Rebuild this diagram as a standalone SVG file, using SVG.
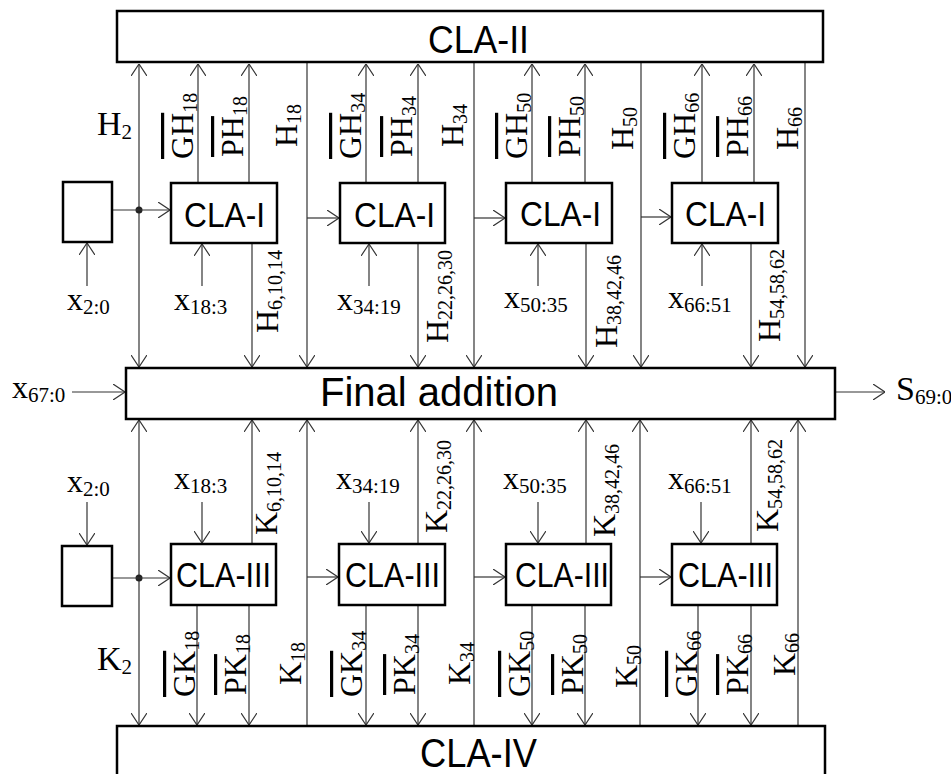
<svg xmlns="http://www.w3.org/2000/svg" width="951" height="774" viewBox="0 0 951 774">
<style>
.ln{stroke:#333;stroke-width:1.2;fill:none}
.bx{fill:#fff;stroke:#000;stroke-width:2.5}
.sans{font-family:"Liberation Sans",Arial,sans-serif;fill:#000}
.ser{font-family:"Liberation Serif","Times New Roman",serif;font-size:32px;fill:#000}
.hz{font-family:"Liberation Serif","Times New Roman",serif;font-size:34px;fill:#000}
.xv{font-family:"Liberation Serif","Times New Roman",serif;font-size:32px;fill:#000}
.sub{font-size:20px}
.sub2{font-size:21px}
.ov{text-decoration:overline}
</style>
<defs>
<marker id="ar" viewBox="0 0 12 16" refX="12" refY="8" markerWidth="12" markerHeight="16" markerUnits="userSpaceOnUse" orient="auto-start-reverse">
<path d="M0,0 L12,8 L0,16" fill="none" stroke="#333" stroke-width="1.2"/>
</marker>
</defs>
<g id="connectors">
<line class="ln" x1="139" y1="64" x2="139" y2="367" marker-start="url(#ar)" marker-end="url(#ar)"/>
<circle cx="139" cy="210" r="3.5" fill="#222"/>
<line class="ln" x1="112" y1="210" x2="170" y2="210" marker-end="url(#ar)"/>
<line class="ln" x1="198" y1="183" x2="198" y2="64" marker-end="url(#ar)"/>
<line class="ln" x1="249" y1="183" x2="249" y2="64" marker-end="url(#ar)"/>
<line class="ln" x1="307" y1="62" x2="307" y2="367" marker-end="url(#ar)"/>
<line class="ln" x1="252" y1="243" x2="252" y2="367" marker-end="url(#ar)"/>
<line class="ln" x1="307" y1="218" x2="339" y2="218" marker-end="url(#ar)"/>
<line class="ln" x1="366" y1="183" x2="366" y2="64" marker-end="url(#ar)"/>
<line class="ln" x1="418" y1="183" x2="418" y2="64" marker-end="url(#ar)"/>
<line class="ln" x1="474" y1="62" x2="474" y2="367" marker-end="url(#ar)"/>
<line class="ln" x1="418" y1="243" x2="418" y2="367" marker-end="url(#ar)"/>
<line class="ln" x1="474" y1="218" x2="505" y2="218" marker-end="url(#ar)"/>
<line class="ln" x1="532" y1="183" x2="532" y2="64" marker-end="url(#ar)"/>
<line class="ln" x1="585" y1="183" x2="585" y2="64" marker-end="url(#ar)"/>
<line class="ln" x1="641" y1="62" x2="641" y2="367" marker-end="url(#ar)"/>
<line class="ln" x1="586" y1="243" x2="586" y2="367" marker-end="url(#ar)"/>
<line class="ln" x1="641" y1="217" x2="671" y2="217" marker-end="url(#ar)"/>
<line class="ln" x1="702" y1="183" x2="702" y2="64" marker-end="url(#ar)"/>
<line class="ln" x1="754" y1="183" x2="754" y2="64" marker-end="url(#ar)"/>
<line class="ln" x1="805" y1="62" x2="805" y2="367" marker-end="url(#ar)"/>
<line class="ln" x1="751" y1="243" x2="751" y2="367" marker-end="url(#ar)"/>
<line class="ln" x1="87" y1="286" x2="87" y2="243" marker-end="url(#ar)"/>
<line class="ln" x1="202" y1="286" x2="202" y2="244" marker-end="url(#ar)"/>
<line class="ln" x1="369" y1="286" x2="369" y2="244" marker-end="url(#ar)"/>
<line class="ln" x1="538" y1="286" x2="538" y2="244" marker-end="url(#ar)"/>
<line class="ln" x1="702" y1="286" x2="702" y2="244" marker-end="url(#ar)"/>
<line class="ln" x1="72" y1="392" x2="125" y2="392" marker-end="url(#ar)"/>
<line class="ln" x1="836" y1="392" x2="885" y2="392" marker-end="url(#ar)"/>
<line class="ln" x1="139" y1="420" x2="139" y2="725" marker-start="url(#ar)" marker-end="url(#ar)"/>
<circle cx="139" cy="578" r="3.5" fill="#222"/>
<line class="ln" x1="112" y1="578" x2="170" y2="578" marker-end="url(#ar)"/>
<line class="ln" x1="252" y1="544" x2="252" y2="420" marker-end="url(#ar)"/>
<line class="ln" x1="307" y1="726" x2="307" y2="420" marker-end="url(#ar)"/>
<line class="ln" x1="197" y1="605" x2="197" y2="725" marker-end="url(#ar)"/>
<line class="ln" x1="249" y1="605" x2="249" y2="725" marker-end="url(#ar)"/>
<line class="ln" x1="307" y1="577" x2="338" y2="577" marker-end="url(#ar)"/>
<line class="ln" x1="418" y1="544" x2="418" y2="420" marker-end="url(#ar)"/>
<line class="ln" x1="474" y1="726" x2="474" y2="420" marker-end="url(#ar)"/>
<line class="ln" x1="366" y1="605" x2="366" y2="725" marker-end="url(#ar)"/>
<line class="ln" x1="418" y1="605" x2="418" y2="725" marker-end="url(#ar)"/>
<line class="ln" x1="474" y1="577" x2="505" y2="577" marker-end="url(#ar)"/>
<line class="ln" x1="586" y1="544" x2="586" y2="420" marker-end="url(#ar)"/>
<line class="ln" x1="640" y1="726" x2="640" y2="420" marker-end="url(#ar)"/>
<line class="ln" x1="532" y1="605" x2="532" y2="725" marker-end="url(#ar)"/>
<line class="ln" x1="585" y1="605" x2="585" y2="725" marker-end="url(#ar)"/>
<line class="ln" x1="640" y1="577" x2="671" y2="577" marker-end="url(#ar)"/>
<line class="ln" x1="751" y1="544" x2="751" y2="420" marker-end="url(#ar)"/>
<line class="ln" x1="798" y1="726" x2="798" y2="420" marker-end="url(#ar)"/>
<line class="ln" x1="698" y1="605" x2="698" y2="725" marker-end="url(#ar)"/>
<line class="ln" x1="751" y1="605" x2="751" y2="725" marker-end="url(#ar)"/>
<line class="ln" x1="87" y1="502" x2="87" y2="545" marker-end="url(#ar)"/>
<line class="ln" x1="202" y1="502" x2="202" y2="543" marker-end="url(#ar)"/>
<line class="ln" x1="369" y1="502" x2="369" y2="543" marker-end="url(#ar)"/>
<line class="ln" x1="538" y1="502" x2="538" y2="543" marker-end="url(#ar)"/>
<line class="ln" x1="701" y1="502" x2="701" y2="543" marker-end="url(#ar)"/>
</g>
<g id="cla2"><rect class="bx" x="117" y="11" width="706" height="51"/><text class="sans" x="428" y="53" font-size="39" textLength="101" lengthAdjust="spacingAndGlyphs">CLA-II</text></g>
<g id="fa"><rect class="bx" x="126" y="368" width="709" height="51"/><text class="sans" x="320" y="406" font-size="40">Final addition</text></g>
<g id="cla4"><rect class="bx" x="117" y="726" width="708" height="60"/><text class="sans" x="420" y="767" font-size="40" textLength="117" lengthAdjust="spacingAndGlyphs">CLA-IV</text></g>
<g id="regtop"><rect class="bx" x="63" y="182" width="49" height="60"/></g>
<g id="regbot"><rect class="bx" x="62" y="546" width="50" height="60"/></g>
<g id="cla1a"><rect class="bx" x="171" y="183" width="106" height="60"/><text class="sans" x="184" y="227" font-size="35" textLength="81" lengthAdjust="spacingAndGlyphs">CLA-I</text></g>
<g id="cla1b"><rect class="bx" x="340" y="183" width="105" height="60"/><text class="sans" x="354" y="227" font-size="35" textLength="81" lengthAdjust="spacingAndGlyphs">CLA-I</text></g>
<g id="cla1c"><rect class="bx" x="506" y="183" width="106" height="60"/><text class="sans" x="520" y="226" font-size="35" textLength="81" lengthAdjust="spacingAndGlyphs">CLA-I</text></g>
<g id="cla1d"><rect class="bx" x="672" y="183" width="106" height="60"/><text class="sans" x="685" y="226" font-size="35" textLength="81" lengthAdjust="spacingAndGlyphs">CLA-I</text></g>
<g id="cla3a"><rect class="bx" x="171" y="544" width="105" height="61"/><text class="sans" x="176" y="587" font-size="35" textLength="95" lengthAdjust="spacingAndGlyphs">CLA-III</text></g>
<g id="cla3b"><rect class="bx" x="339" y="544" width="106" height="61"/><text class="sans" x="345" y="587" font-size="35" textLength="95" lengthAdjust="spacingAndGlyphs">CLA-III</text></g>
<g id="cla3c"><rect class="bx" x="506" y="544" width="105" height="61"/><text class="sans" x="515" y="587" font-size="35" textLength="94" lengthAdjust="spacingAndGlyphs">CLA-III</text></g>
<g id="cla3d"><rect class="bx" x="672" y="544" width="105" height="61"/><text class="sans" x="678" y="587" font-size="35" textLength="95" lengthAdjust="spacingAndGlyphs">CLA-III</text></g>
<g id="labels">
<text class="hz" x="97" y="135">H<tspan class="sub2" dy="4">2</tspan></text>
<text class="ser" transform="translate(193,159) rotate(-90)"><tspan class="ov">GH</tspan><tspan class="sub" dy="4">18</tspan></text>
<text class="ser" transform="translate(243,157) rotate(-90)"><tspan class="ov">PH</tspan><tspan class="sub" dy="4">18</tspan></text>
<text class="ser" transform="translate(297,147) rotate(-90)">H<tspan class="sub" dy="4">18</tspan></text>
<text class="ser" transform="translate(361,159) rotate(-90)"><tspan class="ov">GH</tspan><tspan class="sub" dy="4">34</tspan></text>
<text class="ser" transform="translate(412,157) rotate(-90)"><tspan class="ov">PH</tspan><tspan class="sub" dy="4">34</tspan></text>
<text class="ser" transform="translate(463,147) rotate(-90)">H<tspan class="sub" dy="4">34</tspan></text>
<text class="ser" transform="translate(527,159) rotate(-90)"><tspan class="ov">GH</tspan><tspan class="sub" dy="4">50</tspan></text>
<text class="ser" transform="translate(580,157) rotate(-90)"><tspan class="ov">PH</tspan><tspan class="sub" dy="4">50</tspan></text>
<text class="ser" transform="translate(633,150) rotate(-90)">H<tspan class="sub" dy="4">50</tspan></text>
<text class="ser" transform="translate(695,159) rotate(-90)"><tspan class="ov">GH</tspan><tspan class="sub" dy="4">66</tspan></text>
<text class="ser" transform="translate(748,157) rotate(-90)"><tspan class="ov">PH</tspan><tspan class="sub" dy="4">66</tspan></text>
<text class="ser" transform="translate(798,150) rotate(-90)">H<tspan class="sub" dy="4">66</tspan></text>
<text class="ser" transform="translate(278,333) rotate(-90)">H<tspan class="sub" dy="4">6,10,14</tspan></text>
<text class="ser" transform="translate(448,343) rotate(-90)">H<tspan class="sub" dy="4">22,26,30</tspan></text>
<text class="ser" transform="translate(617,348) rotate(-90)">H<tspan class="sub" dy="4">38,42,46</tspan></text>
<text class="ser" transform="translate(780,342) rotate(-90)">H<tspan class="sub" dy="4">54,58,62</tspan></text>
<text class="xv" x="67" y="310">x<tspan class="sub2" dy="4">2:0</tspan></text>
<text class="xv" x="174" y="310">x<tspan class="sub2" dy="4">18:3</tspan></text>
<text class="xv" x="337" y="310">x<tspan class="sub2" dy="4">34:19</tspan></text>
<text class="xv" x="504" y="308">x<tspan class="sub2" dy="4">50:35</tspan></text>
<text class="xv" x="668" y="308">x<tspan class="sub2" dy="4">66:51</tspan></text>
<text class="xv" x="12" y="398">x<tspan class="sub2" dy="4">67:0</tspan></text>
<text class="hz" x="896" y="400">S<tspan class="sub2" dy="4">69:0</tspan></text>
<text class="xv" x="67" y="492">x<tspan class="sub2" dy="4">2:0</tspan></text>
<text class="xv" x="174" y="489">x<tspan class="sub2" dy="4">18:3</tspan></text>
<text class="xv" x="336" y="489">x<tspan class="sub2" dy="4">34:19</tspan></text>
<text class="xv" x="503" y="489">x<tspan class="sub2" dy="4">50:35</tspan></text>
<text class="xv" x="668" y="489">x<tspan class="sub2" dy="4">66:51</tspan></text>
<text class="ser" transform="translate(277,535) rotate(-90)">K<tspan class="sub" dy="4">6,10,14</tspan></text>
<text class="ser" transform="translate(447,533) rotate(-90)">K<tspan class="sub" dy="4">22,26,30</tspan></text>
<text class="ser" transform="translate(615,537) rotate(-90)">K<tspan class="sub" dy="4">38,42,46</tspan></text>
<text class="ser" transform="translate(778,532) rotate(-90)">K<tspan class="sub" dy="4">54,58,62</tspan></text>
<text class="hz" x="97" y="670">K<tspan class="sub2" dy="4">2</tspan></text>
<text class="ser" transform="translate(195,697) rotate(-90)"><tspan class="ov">GK</tspan><tspan class="sub" dy="4">18</tspan></text>
<text class="ser" transform="translate(246,695) rotate(-90)"><tspan class="ov">PK</tspan><tspan class="sub" dy="4">18</tspan></text>
<text class="ser" transform="translate(301,685) rotate(-90)">K<tspan class="sub" dy="4">18</tspan></text>
<text class="ser" transform="translate(362,697) rotate(-90)"><tspan class="ov">GK</tspan><tspan class="sub" dy="4">34</tspan></text>
<text class="ser" transform="translate(415,695) rotate(-90)"><tspan class="ov">PK</tspan><tspan class="sub" dy="4">34</tspan></text>
<text class="ser" transform="translate(470,685) rotate(-90)">K<tspan class="sub" dy="4">34</tspan></text>
<text class="ser" transform="translate(530,697) rotate(-90)"><tspan class="ov">GK</tspan><tspan class="sub" dy="4">50</tspan></text>
<text class="ser" transform="translate(583,695) rotate(-90)"><tspan class="ov">PK</tspan><tspan class="sub" dy="4">50</tspan></text>
<text class="ser" transform="translate(637,688) rotate(-90)">K<tspan class="sub" dy="4">50</tspan></text>
<text class="ser" transform="translate(697,697) rotate(-90)"><tspan class="ov">GK</tspan><tspan class="sub" dy="4">66</tspan></text>
<text class="ser" transform="translate(748,695) rotate(-90)"><tspan class="ov">PK</tspan><tspan class="sub" dy="4">66</tspan></text>
<text class="ser" transform="translate(795,676) rotate(-90)">K<tspan class="sub" dy="4">66</tspan></text>
</g>
</svg>
